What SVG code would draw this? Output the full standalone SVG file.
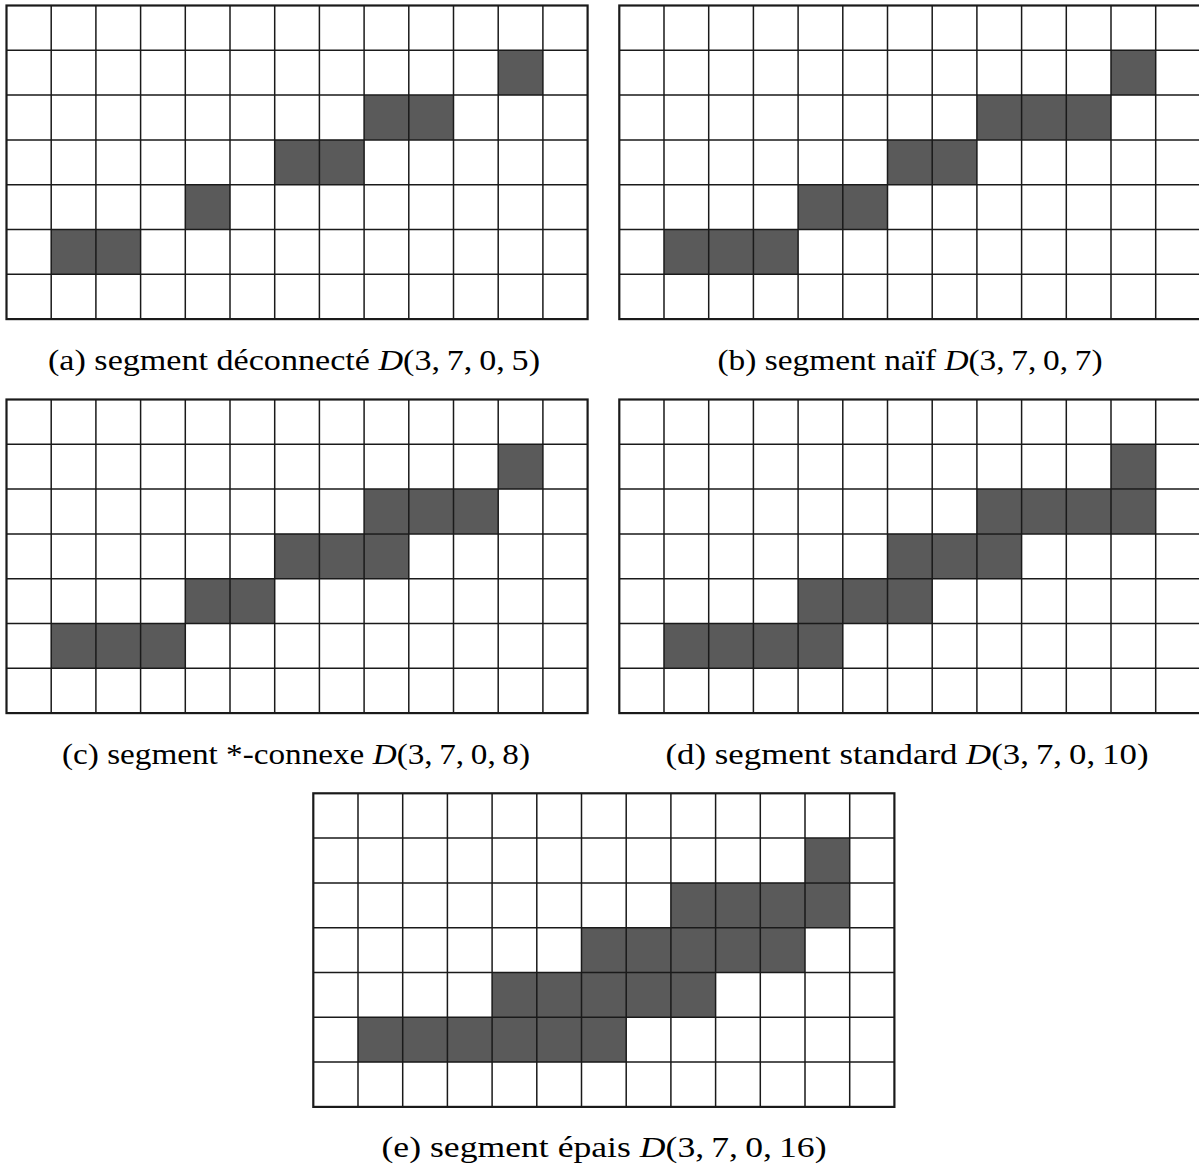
<svg xmlns="http://www.w3.org/2000/svg" xmlns:xlink="http://www.w3.org/1999/xlink" width="1199" height="1167" viewBox="0 0 1199 1167">
<style>
.cell{fill:#5a5a5a;}
.grid{fill:none;stroke:#1a1a1a;stroke-width:1.5;}
.border{fill:none;stroke:#1a1a1a;stroke-width:2.2;}
.cap{font-family:"Liberation Serif","DejaVu Serif",serif;font-size:29px;fill:#000;text-anchor:middle;}
.it{font-style:italic;}
</style>
<defs>
<g id="grid">
<path class="grid" d="M44.7 0V313.6M89.4 0V313.6M134.1 0V313.6M178.8 0V313.6M223.5 0V313.6M268.2 0V313.6M312.9 0V313.6M357.6 0V313.6M402.3 0V313.6M447 0V313.6M491.7 0V313.6M536.4 0V313.6M0 44.8H581.1M0 89.6H581.1M0 134.4H581.1M0 179.2H581.1M0 224H581.1M0 268.8H581.1"/>
<rect class="border" x="0" y="0" width="581.1" height="313.6"/>
</g>
</defs>
<rect width="1199" height="1167" fill="#fff"/>
<g id="panel-a" transform="translate(6.5,5.5)">
<rect class="cell" x="44.7" y="224" width="89.4" height="44.8"/>
<rect class="cell" x="178.8" y="179.2" width="44.7" height="44.8"/>
<rect class="cell" x="268.2" y="134.4" width="89.4" height="44.8"/>
<rect class="cell" x="357.6" y="89.6" width="89.4" height="44.8"/>
<rect class="cell" x="491.7" y="44.8" width="44.7" height="44.8"/>
<use xlink:href="#grid"/>
</g>
<g id="panel-b" transform="translate(619.3,5.5)">
<rect class="cell" x="44.7" y="224" width="134.1" height="44.8"/>
<rect class="cell" x="178.8" y="179.2" width="89.4" height="44.8"/>
<rect class="cell" x="268.2" y="134.4" width="89.4" height="44.8"/>
<rect class="cell" x="357.6" y="89.6" width="134.1" height="44.8"/>
<rect class="cell" x="491.7" y="44.8" width="44.7" height="44.8"/>
<use xlink:href="#grid"/>
</g>
<g id="panel-c" transform="translate(6.5,399.5)">
<rect class="cell" x="44.7" y="224" width="134.1" height="44.8"/>
<rect class="cell" x="178.8" y="179.2" width="89.4" height="44.8"/>
<rect class="cell" x="268.2" y="134.4" width="134.1" height="44.8"/>
<rect class="cell" x="357.6" y="89.6" width="134.1" height="44.8"/>
<rect class="cell" x="491.7" y="44.8" width="44.7" height="44.8"/>
<use xlink:href="#grid"/>
</g>
<g id="panel-d" transform="translate(619.3,399.5)">
<rect class="cell" x="44.7" y="224" width="178.8" height="44.8"/>
<rect class="cell" x="178.8" y="179.2" width="134.1" height="44.8"/>
<rect class="cell" x="268.2" y="134.4" width="134.1" height="44.8"/>
<rect class="cell" x="357.6" y="89.6" width="178.8" height="44.8"/>
<rect class="cell" x="491.7" y="44.8" width="44.7" height="44.8"/>
<use xlink:href="#grid"/>
</g>
<g id="panel-e" transform="translate(313.3,793.3)">
<rect class="cell" x="44.7" y="224" width="268.2" height="44.8"/>
<rect class="cell" x="178.8" y="179.2" width="223.5" height="44.8"/>
<rect class="cell" x="268.2" y="134.4" width="223.5" height="44.8"/>
<rect class="cell" x="357.6" y="89.6" width="178.8" height="44.8"/>
<rect class="cell" x="491.7" y="44.8" width="44.7" height="44.8"/>
<use xlink:href="#grid"/>
</g>
<g id="captions">
<text class="cap" x="294" y="370" textLength="492" lengthAdjust="spacingAndGlyphs">(a) segment déconnecté <tspan class="it">D</tspan>(3,&#8201;7,&#8201;0,&#8201;5)</text>
<text class="cap" x="910" y="370" textLength="385" lengthAdjust="spacingAndGlyphs">(b) segment naïf <tspan class="it">D</tspan>(3,&#8201;7,&#8201;0,&#8201;7)</text>
<text class="cap" x="296" y="764" textLength="468" lengthAdjust="spacingAndGlyphs">(c) segment *-connexe <tspan class="it">D</tspan>(3,&#8201;7,&#8201;0,&#8201;8)</text>
<text class="cap" x="907" y="764" textLength="483" lengthAdjust="spacingAndGlyphs">(d) segment standard <tspan class="it">D</tspan>(3,&#8201;7,&#8201;0,&#8201;10)</text>
<text class="cap" x="604" y="1157" textLength="445" lengthAdjust="spacingAndGlyphs">(e) segment épais <tspan class="it">D</tspan>(3,&#8201;7,&#8201;0,&#8201;16)</text>
</g>
</svg>
